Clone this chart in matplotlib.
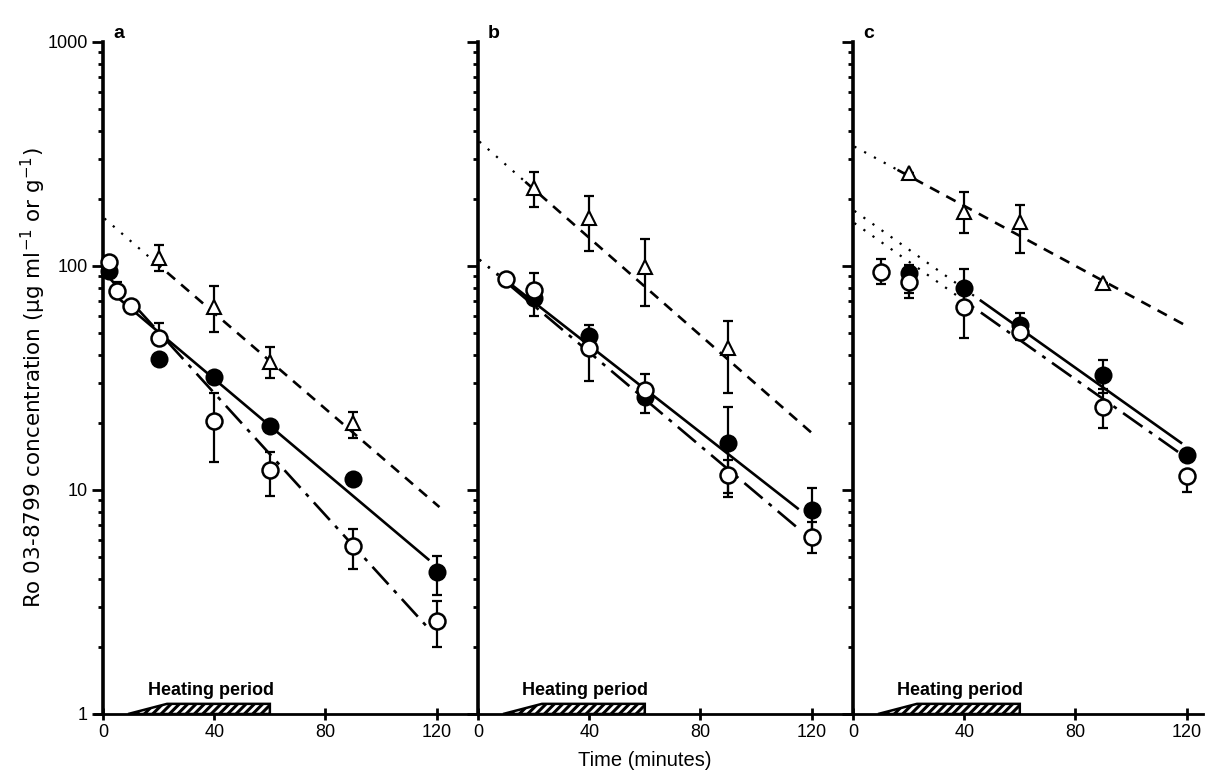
import numpy as np
import matplotlib
matplotlib.use('Agg')
import matplotlib.pyplot as plt
from matplotlib.patches import Polygon
from matplotlib.ticker import LogLocator, NullFormatter

plt.rcParams['font.family'] = ['Liberation Sans', 'DejaVu Sans']
plt.rcParams['hatch.linewidth'] = 2.2

# ---- panel a ----
a_open_t = [2, 5, 10, 20, 40, 60, 90, 120]
a_open_v = [104, 77, 66, 47.7, 20.3, 12.3, 5.6, 2.6]
a_open_hi = [110, 85, 66, 55.7, 27, 14.8, 6.7, 3.19]
a_open_lo = [104, 77, 66, 47.7, 13.3, 9.4, 4.44, 1.99]

a_fill_t = [2, 20, 40, 60, 90, 120]
a_fill_v = [95, 38.4, 32, 19.3, 11.2, 4.3]
a_fill_hi = [95, 38.4, 32, 19.3, 11.2, 5.08]
a_fill_lo = [95, 38.4, 32, 19.3, 11.2, 3.4]

a_tri_t = [20, 40, 60, 90]
a_tri_v = [108.6, 65.6, 37.2, 19.9]
a_tri_hi = [124, 81.3, 43.6, 22.4]
a_tri_lo = [95.4, 50.8, 31.6, 17.1]

# ---- panel b ----
b_open_t = [10, 20, 40, 60, 90, 120]
b_open_v = [87.5, 78, 43, 28, 11.7, 6.2]
b_open_hi = [87.5, 93, 43, 33, 13.6, 7.2]
b_open_lo = [87.5, 78, 30.6, 28, 9.7, 5.25]

b_fill_t = [20, 40, 60, 90, 120]
b_fill_v = [72, 48.7, 26, 16.2, 8.15]
b_fill_hi = [83, 54.5, 26, 23.4, 10.2]
b_fill_lo = [60, 43.4, 22, 9.3, 6.0]

b_tri_t = [20, 40, 60, 90]
b_tri_v = [223, 164, 99, 43]
b_tri_hi = [263, 206, 132, 57]
b_tri_lo = [184, 117, 66, 27]

# ---- panel c ----
c_open_t = [10, 20, 40, 60, 90, 120]
c_open_v = [94.5, 85, 65.6, 50.9, 23.5, 11.5]
c_open_hi = [107.8, 85, 84, 50.9, 28.2, 11.5]
c_open_lo = [83, 72, 47.6, 46.8, 18.9, 9.8]

c_fill_t = [20, 40, 60, 90, 120]
c_fill_v = [93, 80, 54.6, 32.6, 14.3]
c_fill_hi = [101, 97, 61.7, 38, 14.3]
c_fill_lo = [76, 65.6, 54.6, 27, 14.3]

c_tri_t = [20, 40, 60, 90]
c_tri_v = [260, 174, 157, 84]
c_tri_hi = [260, 213, 188, 84]
c_tri_lo = [260, 140, 114, 84]

# regression lines: (value at 0 min, value at 120 min, dotted up to, line from, line to)
a_fits = {'fill': (82, 4.56, None, 3, 117), 'open': (95, 2.2, None, 2, 117),
          'tri': (165, 8.6, 18, 18, 121)}
b_fits = {'fill': (108, 7.4, 10, 12, 115), 'open': (108, 6.0, 10, 12, 115),
          'tri': (364, 18, 17, 17, 120)}
c_fits = {'fill': (178, 15.6, 45, 46, 118), 'open': (157, 13.9, 45, 46, 117),
          'tri': (344, 54, 16, 16, 120)}

panels = [
    ('a', a_open_t, a_open_v, a_open_hi, a_open_lo, a_fill_t, a_fill_v, a_fill_hi, a_fill_lo,
     a_tri_t, a_tri_v, a_tri_hi, a_tri_lo, a_fits),
    ('b', b_open_t, b_open_v, b_open_hi, b_open_lo, b_fill_t, b_fill_v, b_fill_hi, b_fill_lo,
     b_tri_t, b_tri_v, b_tri_hi, b_tri_lo, b_fits),
    ('c', c_open_t, c_open_v, c_open_hi, c_open_lo, c_fill_t, c_fill_v, c_fill_hi, c_fill_lo,
     c_tri_t, c_tri_v, c_tri_hi, c_tri_lo, c_fits),
]

heat_start, heat_ramp, heat_end = 9, 23, 60

W, H = 1209, 770
fig = plt.figure(figsize=(W / 100, H / 100), dpi=100)

# axes extents in pixels (left, right) and x limits
px_per_min = 2.78
ax_specs = [(95, 478, -2.9), (478, 853, 0), (853, 1203, 0)]
y_bot, y_top = 714, 42

line_styles = {'fill': dict(ls='-'),
               'open': dict(ls=(0, (9, 3, 1.5, 3))),
               'tri': dict(ls=(0, (4, 3)))}


def conc_at(fit, t):
    c0, c120 = fit[0], fit[1]
    return c0 * (c120 / c0) ** (np.asarray(t, dtype=float) / 120.0)


for i, (letter, ot, ov, ohi, olo, ft, fv, fhi, flo, tt, tv, thi, tlo, fits) in enumerate(panels):
    left, right, xmin = ax_specs[i]
    xmax = xmin + (right - left) / px_per_min
    ax = fig.add_axes([left / W, (H - y_bot) / H, (right - left) / W, (y_bot - y_top) / H])
    ax.set_yscale('log')
    ax.set_ylim(1, 1000)
    ax.set_xlim(xmin, xmax)
    ax.patch.set_alpha(0)

    for s in ['top', 'right']:
        ax.spines[s].set_visible(False)
    ax.spines['left'].set_position(('data', 0))
    ax.spines['left'].set_linewidth(2.6)
    ax.spines['bottom'].set_linewidth(2.0)

    ax.set_xticks([0, 40, 80, 120])
    ax.tick_params(axis='x', direction='inout', length=8, width=2, labelsize=13, pad=3)
    ax.set_yticks([1, 10, 100, 1000])
    ax.yaxis.set_minor_locator(LogLocator(base=10, subs=np.arange(2, 10)))
    ax.yaxis.set_minor_formatter(NullFormatter())
    ax.tick_params(axis='y', which='major', direction='out', length=8, width=2, labelsize=13, pad=3)
    ax.tick_params(axis='y', which='minor', direction='out', length=3.5, width=2)
    if i == 0:
        ax.set_yticklabels(['1', '10', '100', '1000'])
    else:
        ax.set_yticklabels([])

    # regression lines with dotted back-extrapolation
    for key in ['tri', 'fill', 'open']:
        fit = fits[key]
        dot_end, t0, t1 = fit[2], fit[3], fit[4]
        if dot_end is not None:
            td = np.array([0.5, dot_end])
            ax.plot(td, conc_at(fit, td), color='k', lw=1.6, ls=(0, (1, 4)), zorder=2)
        tl = np.array([t0, t1])
        ax.plot(tl, conc_at(fit, tl), color='k', lw=1.9, zorder=2, **line_styles[key])

    # error bars
    err_kw = dict(fmt='none', ecolor='k', elinewidth=1.6, capsize=3.8, capthick=1.6, zorder=3)
    for t, v, hi, lo in [(tt, tv, thi, tlo), (ft, fv, fhi, flo), (ot, ov, ohi, olo)]:
        v = np.array(v)
        yerr = [v - np.array(lo), np.array(hi) - v]
        ax.errorbar(t, v, yerr=yerr, **err_kw)

    # markers
    ax.plot(tt, tv, ls='none', marker='^', ms=10, mfc='white', mec='k', mew=1.5, zorder=4)
    ax.plot(ft, fv, ls='none', marker='o', ms=11.5, mfc='k', mec='k', mew=1.5, zorder=4)
    ax.plot(ot, ov, ls='none', marker='o', ms=11.5, mfc='white', mec='k', mew=1.8, zorder=5)

    # heating period bar
    bar_top = 1.11
    poly = Polygon([(heat_start, 1.0), (heat_ramp, bar_top), (heat_end, bar_top), (heat_end, 1.0)],
                   closed=True, facecolor='white', edgecolor='k', lw=1.8, hatch='////', zorder=2)
    ax.add_patch(poly)
    ax.text(16, 1.17, 'Heating period', fontsize=13, fontweight='bold', ha='left', va='bottom')

    # panel letter
    ax.text(5.5, 1000, letter, fontsize=14, fontweight='bold', ha='center', va='bottom')

fig.text(33 / W, 1 - 378 / H, 'Ro 03-8799 concentration (μg ml$^{-1}$ or g$^{-1}$)',
         rotation=90, ha='center', va='center', fontsize=15.5, family='DejaVu Sans')
fig.text(645 / W, 1 - 760 / H, 'Time (minutes)', ha='center', va='center', fontsize=14.5)

fig.savefig('out.png', dpi=100)
